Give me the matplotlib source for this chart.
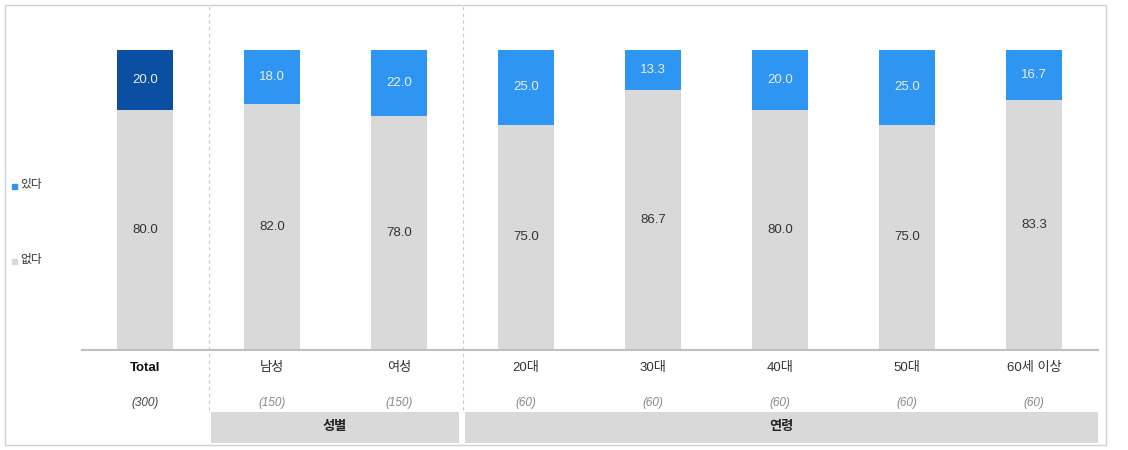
# Stacked 100% bars: 있다 / 없다 by segment
import numpy as np
import matplotlib.pyplot as plt
from matplotlib.patches import Rectangle
import matplotlib.transforms as mtransforms

plt.rcParams['font.family'] = ['Liberation Sans', 'Noto Sans CJK KR', 'DejaVu Sans']

# data
categories = ['Total', '남성', '여성', '20대', '30대', '40대', '50대', '60세 이상']
bases = ['(300)', '(150)', '(150)', '(60)', '(60)', '(60)', '(60)', '(60)']
yes_vals = [20.0, 18.0, 22.0, 25.0, 13.3, 20.0, 25.0, 16.7]
no_vals = [80.0, 82.0, 78.0, 75.0, 86.7, 80.0, 75.0, 83.3]
group_names = ['성별', '연령']
group_start = [1, 3]
group_end = [2, 7]

blue = '#2F95F3'
dark_blue = '#0B4FA3'
grey = '#D9D9D9'

fig = plt.figure(figsize=(11.28, 4.5), dpi=100)
ax = fig.add_axes([81.5 / 1128, 100 / 450, 1016 / 1128, 300 / 450])

x = np.arange(len(categories))
top_colors = [dark_blue] + [blue] * (len(categories) - 1)
ax.bar(x, no_vals, width=0.44, color=grey)
ax.bar(x, yes_vals, width=0.44, bottom=no_vals, color=top_colors)

for i in range(len(categories)):
    ax.text(x[i], no_vals[i] / 2, f'{no_vals[i]:.1f}', ha='center', va='center',
            fontsize=9.5, color='#333333')
    ax.text(x[i], no_vals[i] + yes_vals[i] / 2, f'{yes_vals[i]:.1f}', ha='center',
            va='center', fontsize=9.5, color='#E8EEF8')

ax.set_xlim(-0.5, 7.5)
ax.set_ylim(0, 100)
ax.set_xticks([])
ax.set_yticks([])
for s in ['top', 'right', 'left']:
    ax.spines[s].set_visible(False)
ax.spines['bottom'].set_color('#BFBFBF')
ax.spines['bottom'].set_linewidth(1.5)

trans = mtransforms.blended_transform_factory(ax.transData, ax.transAxes)
for i, c in enumerate(categories):
    ax.text(x[i], -0.06, c, transform=trans, ha='center', va='center', fontsize=9.5,
            fontweight='bold' if i == 0 else 'normal',
            color='#111111' if i == 0 else '#333333')
    ax.text(x[i], -0.177, bases[i], transform=trans, ha='center', va='center',
            fontsize=8.5, style='italic',
            color='#444444' if i == 0 else '#888888')

# group separators
for sx in [0.5, 2.5]:
    ax.plot([sx, sx], [-0.2, 1.15], transform=trans, color='#C8C8C8', lw=0.8,
            ls=(0, (3, 3)), clip_on=False)

# group boxes
for name, a, b in zip(group_names, group_start, group_end):
    left = a - 0.48
    right = b + 0.47 if b < len(categories) - 1 else b + 0.5
    ax.add_patch(Rectangle((left, -0.31), right - left, 0.103, transform=trans,
                           color=grey, clip_on=False, lw=0))
    ax.text((left + right) / 2, -0.258, name, transform=trans, ha='center', va='center',
            fontsize=9.5, fontweight='bold', color='#222222')

# legend
fig.patches.append(Rectangle((12 / 1128, 1 - 189 / 450), 5 / 1128, 5 / 450,
                             transform=fig.transFigure, color=blue))
fig.text(20 / 1128, 1 - 185 / 450, '있다', fontsize=8.5, va='center', color='#333333')
fig.patches.append(Rectangle((12 / 1128, 1 - 264 / 450), 5 / 1128, 5 / 450,
                             transform=fig.transFigure, color=grey))
fig.text(20 / 1128, 1 - 260 / 450, '없다', fontsize=8.5, va='center', color='#333333')

# outer frame
fig.patches.append(Rectangle((5 / 1128, 5 / 450), 1101 / 1128, 440 / 450,
                             transform=fig.transFigure, fill=False,
                             edgecolor='#D0D0D0', lw=1))

fig.savefig('out.png', dpi=100)
